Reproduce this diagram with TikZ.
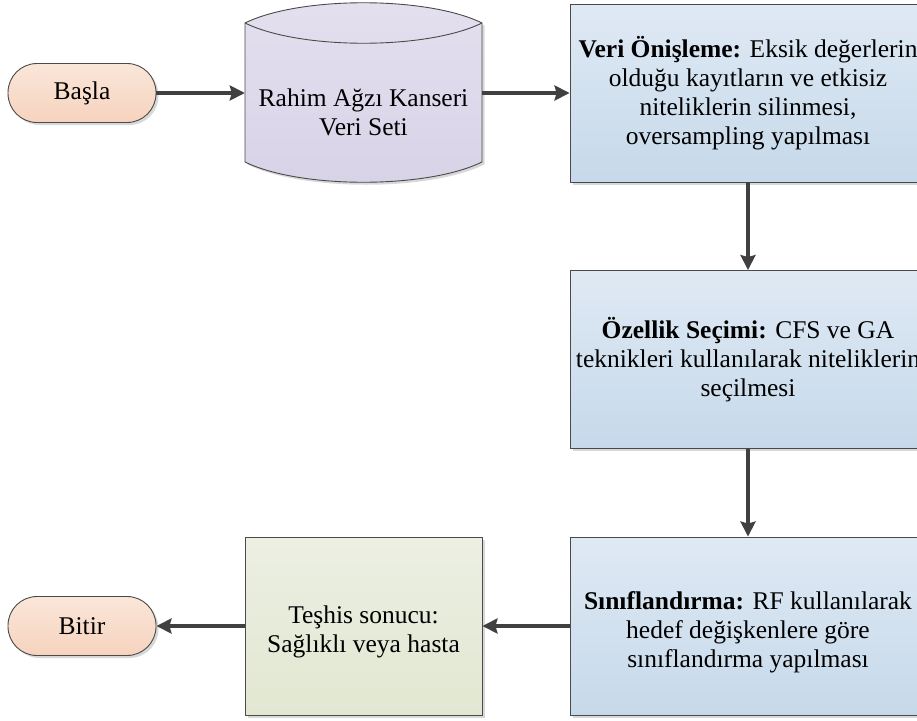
\documentclass[tikz,border=0pt]{standalone}
\usepackage{fontspec}
\setmainfont{Liberation Serif}
\usetikzlibrary{arrows.meta,shadows}
\definecolor{bordercol}{HTML}{4A4A4A}
\definecolor{arrowcol}{HTML}{404040}
\definecolor{termtop}{HTML}{FAE6D9}
\definecolor{termbot}{HTML}{F6D3BE}
\definecolor{cyltop}{HTML}{E4E0EF}
\definecolor{cylbot}{HTML}{D8D2E7}
\definecolor{bluetop}{HTML}{DFE9F4}
\definecolor{bluebot}{HTML}{C6D9EA}
\definecolor{greentop}{HTML}{ECEFE2}
\definecolor{greenbot}{HTML}{E2E7D2}
\tikzset{
  bigfont/.style={font=\fontsize{25.5}{29}\selectfont},
  shadowed/.style={drop shadow={shadow xshift=2.5pt,shadow yshift=-2.5pt,fill=black!30,opacity=0.5}},
  term/.style={rectangle,rounded corners=29pt,draw=bordercol,line width=0.9pt,
    top color=termtop,bottom color=termbot,minimum width=148pt,minimum height=59pt,
    inner sep=0pt,shadowed,bigfont},
  procbox/.style={rectangle,draw=bordercol,line width=0.9pt,top color=bluetop,bottom color=bluebot,
    minimum width=356pt,minimum height=178pt,inner sep=0pt,align=center,shadowed,bigfont},
  resbox/.style={rectangle,draw=bordercol,line width=0.9pt,top color=greentop,bottom color=greenbot,
    minimum width=237pt,minimum height=178pt,inner sep=0pt,align=center,shadowed,bigfont},
  txt/.style={inner sep=0pt,align=center,bigfont},
  ghost/.style={rectangle,inner sep=0pt,minimum width=237pt,minimum height=179pt},
  flow/.style={draw=arrowcol,line width=3.2pt,-{Stealth[length=15pt,width=15pt,inset=2pt]}}
}
\begin{document}
\begin{tikzpicture}[x=1pt,y=-1pt]
\useasboundingbox (0,0) rectangle (917,720);
\clip (0,0) rectangle (917,720);
% terminals
\node[term] (start) at (82,93) {Başla};
\node[term] (stop) at (82,626) {Bitir};
% cylinder (database)
\node[ghost] (cyl) at (363.5,92.5) {};
\fill[black!30,opacity=0.5,xshift=2.5pt,yshift=-2.5pt]
  (245,23) .. controls (300,-4) and (427,-4) .. (482,23) -- (482,162)
  .. controls (427,189) and (300,189) .. (245,162) -- cycle;
\shade[top color=cyltop,bottom color=cylbot]
  (245,23) .. controls (300,-4) and (427,-4) .. (482,23) -- (482,162)
  .. controls (427,189) and (300,189) .. (245,162) -- cycle;
\draw[bordercol,line width=0.9pt]
  (245,23) .. controls (300,-4) and (427,-4) .. (482,23) -- (482,162)
  .. controls (427,189) and (300,189) .. (245,162) -- cycle;
\draw[bordercol,line width=0.9pt] (245,23) .. controls (300,50) and (427,50) .. (482,23);
\node[txt] (cyltext) at (363.5,112) {Rahim Ağzı Kanseri\\Veri Seti};
% process boxes
\node[procbox] (pre) at (748,93) {\textbf{Veri Önişleme:} Eksik değerlerin\\olduğu kayıtların ve etkisiz\\niteliklerin silinmesi,\\oversampling yapılması};
\node[procbox] (feat) at (748,359.5) {\textbf{Özellik Seçimi:} CFS ve GA\\teknikleri kullanılarak niteliklerin\\seçilmesi};
\node[procbox] (cls) at (748,626) {};
\node[txt] (clstext) at (748,632) {\textbf{Sınıflandırma:} RF kullanılarak\\hedef değişkenlere göre\\sınıflandırma yapılması};
\node[resbox] (res) at (363.5,626) {};
\node[txt] (restext) at (363.5,632) {Teşhis sonucu:\\Sağlıklı veya hasta};
% connectors
\draw[flow] (start.east) -- (start.east -| cyl.west);
\draw[flow] (cyl.east |- pre.west) -- (pre.west);
\draw[flow] (pre.south) -- (feat.north);
\draw[flow] (feat.south) -- (cls.north);
\draw[flow] (cls.west) -- (res.east);
\draw[flow] (res.west) -- (stop.east);
\end{tikzpicture}
\end{document}
